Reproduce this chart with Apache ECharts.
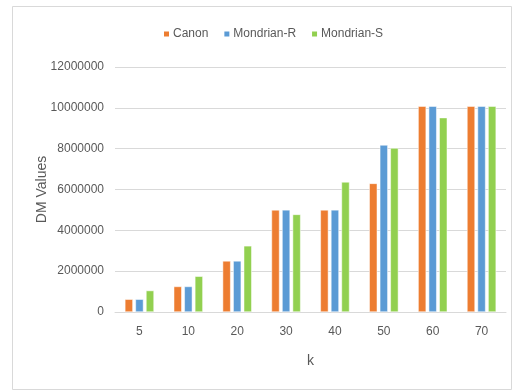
<!DOCTYPE html>
<html>
<head>
<meta charset="utf-8">
<style>
  html, body { margin: 0; padding: 0; background: #fff; }
  #chart { width: 528px; height: 391px; }
</style>
<script src="https://cdn.jsdelivr.net/npm/echarts@6/dist/echarts.min.js"></script>
</head>
<body>
<div id="chart"></div>
<script>
// k values on the x axis
const categories = ['5', '10', '20', '30', '40', '50', '60', '70'];

// DM values per method
const canon = [625000, 1250000, 2500000, 5000000, 5000000, 6300000, 10080000, 10080000];
const mondrianR = [625000, 1250000, 2500000, 5000000, 5000000, 8180000, 10080000, 10080000];
const mondrianS = [1050000, 1750000, 3240000, 4780000, 6370000, 8030000, 9520000, 10080000];

const seriesNames = ['Canon', 'Mondrian-R', 'Mondrian-S'];
const seriesColors = ['#ED7D31', '#5B9BD5', '#92D050'];
const seriesData = [canon, mondrianR, mondrianS];

const textColor = '#595959';
const fontFamily = '"Liberation Sans", Arial, sans-serif';

const chart = echarts.init(document.getElementById('chart'), null, { renderer: 'canvas' });

chart.setOption({
  backgroundColor: '#ffffff',
  animation: false,
  textStyle: { fontFamily: fontFamily },
  graphic: [{
    type: 'rect',
    shape: { x: 12.5, y: 6.5, width: 499, height: 383 },
    style: { fill: 'none', stroke: '#d9d9d9', lineWidth: 1 },
    silent: true,
    z: -1
  }],
  legend: {
    data: seriesNames,
    left: 162,
    top: 28,
    padding: 0,
    itemWidth: 7,
    itemHeight: 7,
    itemGap: 14,
    icon: 'rect',
    textStyle: { color: textColor, fontSize: 12, fontFamily: fontFamily, padding: [0, 0, 0, -2] }
  },
  grid: {
    left: 115,
    right: 22,
    top: 67,
    bottom: 79,
    containLabel: false
  },
  xAxis: {
    type: 'category',
    data: categories,
    name: 'k',
    nameLocation: 'middle',
    nameGap: 42,
    nameMoveOverlap: false,
    nameTextStyle: { color: textColor, fontSize: 14, fontFamily: fontFamily },
    axisLine: { lineStyle: { color: '#d9d9d9' } },
    axisTick: { show: false },
    axisLabel: { color: textColor, fontSize: 12, margin: 14, fontFamily: fontFamily }
  },
  yAxis: {
    type: 'value',
    min: 0,
    max: 12000000,
    interval: 2000000,
    name: 'DM Values',
    nameLocation: 'middle',
    nameGap: 66,
    nameMoveOverlap: false,
    nameTextStyle: { color: textColor, fontSize: 14, fontFamily: fontFamily },
    axisLine: { show: false },
    axisTick: { show: false },
    splitLine: { lineStyle: { color: '#d9d9d9' } },
    axisLabel: {
      color: textColor,
      fontSize: 12,
      margin: 11,
      fontFamily: fontFamily,
      formatter: (v) => String(v)
    }
  },
  series: seriesNames.map((name, i) => ({
    name: name,
    type: 'bar',
    data: seriesData[i],
    barWidth: 8,
    barGap: '32%',
    itemStyle: { color: seriesColors[i], borderColor: '#ffffff', borderWidth: 0.5 }
  }))
});
</script>
</body>
</html>
